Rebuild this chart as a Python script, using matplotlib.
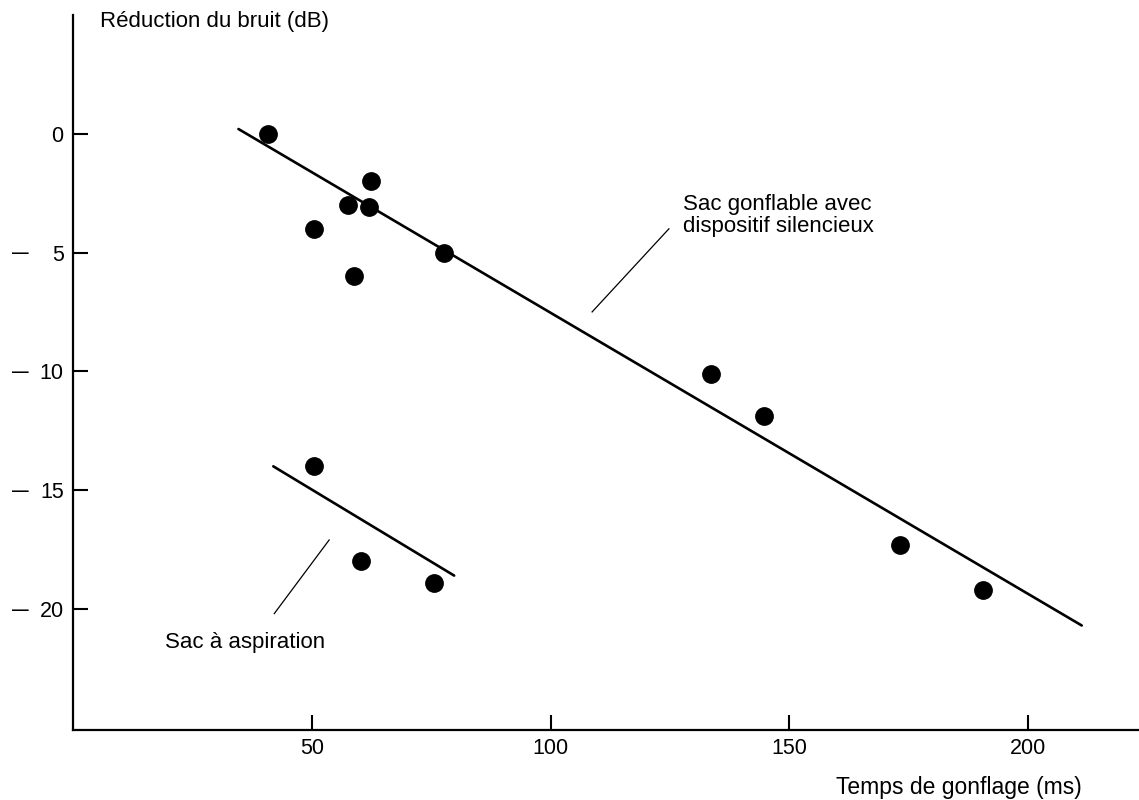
import numpy as np
import matplotlib
matplotlib.use('Agg')
import matplotlib.pyplot as plt
import matplotlib.transforms as mtransforms

plt.rcParams['font.family'] = ['Liberation Sans', 'DejaVu Sans']

#Data
#Sac gonflable avec dispositif silencieux
sil_x = [40.7, 62.4, 57.6, 61.9, 50.5, 77.7, 58.9, 133.7, 144.7, 173.3, 190.6]
sil_y = [0.0, -2.0, -3.0, -3.1, -4.0, -5.0, -6.0, -10.1, -11.9, -17.3, -19.2]
sil_fit_x = [34.6, 211.3]
sil_fit_y = [0.2, -20.7]

#Sac a aspiration
asp_x = [50.5, 60.2, 75.6]
asp_y = [-14.0, -18.0, -18.9]
asp_fit_x = [41.9, 79.8]
asp_fit_y = [-14.0, -18.6]

#Axis ticks
x_ticks = [50, 100, 150, 200]
y_ticks = [0, -5, -10, -15, -20]
y_tick_labels = ['0', '5', '10', '15', '20']

#Figure
fig = plt.figure(figsize=(11.39, 8), dpi=100)
ax = fig.add_axes([0.0644, 0.0875, 0.9356, 0.89375])

ax.plot(sil_x, sil_y, 'o', color='black', markersize=12.5)
ax.plot(sil_fit_x, sil_fit_y, color='black', linewidth=1.9, solid_capstyle='round')
ax.plot(asp_x, asp_y, 'o', color='black', markersize=12.5)
ax.plot(asp_fit_x, asp_fit_y, color='black', linewidth=1.9, solid_capstyle='round')

#Leader lines and labels
ax.plot([124.8, 108.7], [-4.0, -7.5], color='black', linewidth=0.9)
ax.text(127.7, -2.55, 'Sac gonflable avec\ndispositif silencieux', fontsize=16,
        ha='left', va='top', linespacing=1.05)
ax.plot([53.6, 42.1], [-17.1, -20.2], color='black', linewidth=0.9)
ax.text(19.2, -21.4, 'Sac à aspiration', fontsize=16, ha='left', va='center')

#Axes
ax.set_xlim(0, 223.3)
ax.set_ylim(-25.1, 5.0)
ax.spines['top'].set_visible(False)
ax.spines['right'].set_visible(False)
ax.spines['left'].set_linewidth(1.6)
ax.spines['bottom'].set_linewidth(1.6)

ax.set_xticks(x_ticks)
ax.set_xticklabels([str(t) for t in x_ticks])
ax.set_yticks(y_ticks)
ax.set_yticklabels(y_tick_labels)
ax.tick_params(axis='both', direction='in', length=11, width=1.5, labelsize=15.5)
ax.tick_params(axis='x', pad=6)
ax.tick_params(axis='y', pad=7)

#Minus signs in their own column left of the numbers
trans = mtransforms.blended_transform_factory(fig.transFigure, ax.transData)
for t in y_ticks[1:]:
    ax.text(20 / 1139, t - 0.05, '—', transform=trans, fontsize=12, fontweight='bold',
            ha='center', va='center')

#Axis titles
fig.text(100 / 1139, 0.986, 'Réduction du bruit (dB)', fontsize=16, ha='left', va='top')
fig.text(1082 / 1139, 6 / 800, 'Temps de gonflage (ms)', fontsize=16.5, ha='right', va='baseline')

plt.savefig('out.png', dpi=100)
